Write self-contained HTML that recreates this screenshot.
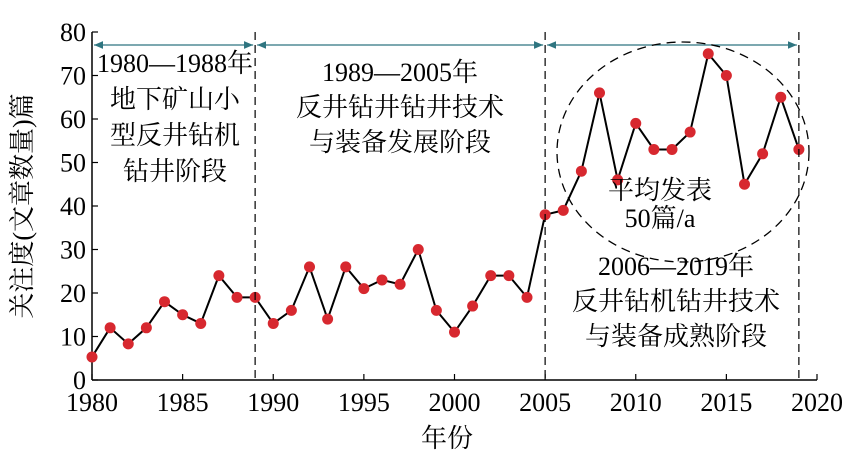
<!DOCTYPE html>
<html><head><meta charset="utf-8"><style>
body{margin:0;background:#fff;}
svg text{font-family:"Liberation Serif","Noto Serif CJK SC",serif;fill:#000;}
</style></head><body>
<svg id="chart" width="861" height="460" viewBox="0 0 861 460" xmlns="http://www.w3.org/2000/svg">
<defs>
<marker id="arr" markerWidth="8" markerHeight="8" refX="7" refY="4" orient="auto-start-reverse"><path d="M0,1 L7,4 L0,7 z" fill="#2f7580"/></marker>
</defs>
<g id="axes"></g>
<g id="marks"></g>
<g id="annot"></g>
</svg>
<script>
const years=[1980,1981,1982,1983,1984,1985,1986,1987,1988,1989,1990,1991,1992,1993,1994,1995,1996,1997,1998,1999,2000,2001,2002,2003,2004,2005,2006,2007,2008,2009,2010,2011,2012,2013,2014,2015,2016,2017,2018,2019];
const counts=[5.3,12,8.3,12,18,15,13,24,19,19,13,16,26,14,26,21,23,22,30,16,11,17,24,24,19,38,39,48,66,46,59,53,53,57,75,70,45,52,65,53];
const xTicks=[1980,1985,1990,1995,2000,2005,2010,2015,2020];
const yTicks=[0,10,20,30,40,50,60,70,80];
const phaseBounds=[1980,1989,2005,2019];

const X0=92,X1=817,Y0=380,Y1=32;
const sx=v=>X0+(v-1980)/(2020-1980)*(X1-X0);
const sy=v=>Y0-(v/80)*(Y0-Y1);
const NS="http://www.w3.org/2000/svg";
function mk(tag,attrs,parent,txt){const e=document.createElementNS(NS,tag);for(const k in attrs)e.setAttribute(k,attrs[k]);if(txt!==undefined)e.textContent=txt;parent.appendChild(e);return e;}
const axes=document.getElementById('axes'),marks=document.getElementById('marks'),annot=document.getElementById('annot');

let a=mk('line',{x1:X0,y1:Y0,x2:X1,y2:Y0,stroke:'#000','stroke-width':1.5},axes);


a=mk('line',{x1:X0,y1:Y0,x2:X0,y2:Y1,stroke:'#000','stroke-width':1.5},axes);


xTicks.forEach(t=>{
 mk('line',{x1:sx(t),y1:Y0,x2:sx(t),y2:Y0-6,stroke:'#000','stroke-width':1.2},axes);
 const l=mk('text',{x:sx(t),y:Y0+31,'text-anchor':'middle','font-size':26},axes,t);
 
 
});
yTicks.forEach(t=>{
 mk('line',{x1:X0,y1:sy(t),x2:X0+6,y2:sy(t),stroke:'#000','stroke-width':1.2},axes);
 const l=mk('text',{x:X0-6,y:sy(t)+9,'text-anchor':'end','font-size':26},axes,t);
 
 
});
let t=mk('text',{x:447,y:447,'text-anchor':'middle','font-size':26},axes,'年份');


t=mk('text',{x:0,y:0,'text-anchor':'middle','font-size':26,transform:'translate(31,206) rotate(-90)'},axes,'关注度(文章数量)篇');



phaseBounds.slice(1).forEach(b=>{
 const d=mk('line',{x1:sx(b),y1:Y1,x2:sx(b),y2:Y0,stroke:'#000','stroke-width':1.2,'stroke-dasharray':'8,5'},annot);
 
 
});
for(let i=0;i<phaseBounds.length-1;i++){
 const ar=mk('line',{x1:sx(phaseBounds[i])+2,y1:45,x2:sx(phaseBounds[i+1])-2,y2:45,stroke:'#2f7580','stroke-width':1.3,'marker-start':'url(#arr)','marker-end':'url(#arr)'},annot);
 
 
}
const el=mk('ellipse',{cx:683,cy:152,rx:126,ry:110,fill:'none',stroke:'#000','stroke-width':1.3,'stroke-dasharray':'9,6'},annot);



function block(lines,cx,y0,dy,name){
 const g=mk('g',{},annot);
 
 
 lines.forEach((s,i)=>mk('text',{x:cx,y:y0+i*dy,'text-anchor':'middle','font-size':26},g,s));
}
block(['1980—1988年','地下矿山小','型反井钻机','钻井阶段'],175,72,36,'phase1-label');
block(['1989—2005年','反井钻井钻井技术','与装备发展阶段'],400,81,35,'phase2-label');
block(['平均发表','50篇/a'],660,199,28,'average-label');
block(['2006—2019年','反井钻机钻井技术','与装备成熟阶段'],676,275,35,'phase3-label');

const pts=years.map((y,i)=>sx(y)+','+sy(counts[i])).join(' ');
const pl=mk('polyline',{points:pts,fill:'none',stroke:'#000','stroke-width':2},marks);


years.forEach((y,i)=>{
 const c=mk('circle',{cx:sx(y),cy:sy(counts[i]),r:5.5,fill:'#d7282f'},marks);
 
 
});
</script>
</body></html>
